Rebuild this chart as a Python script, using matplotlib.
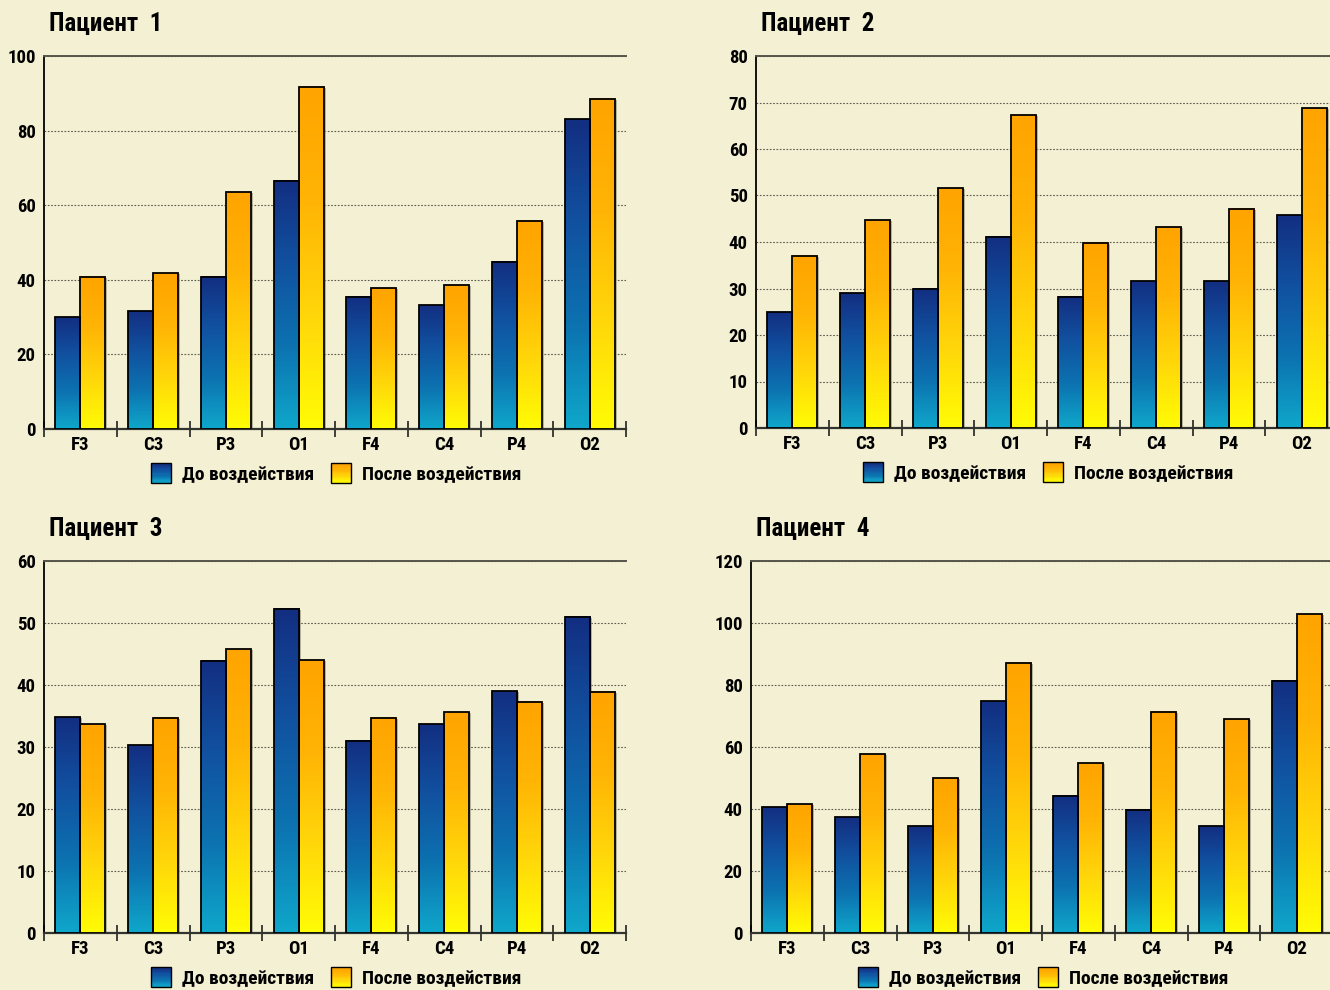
import numpy as np
import matplotlib
matplotlib.use("Agg")
from matplotlib import pyplot as plt
from matplotlib.colors import LinearSegmentedColormap
from matplotlib.patches import Rectangle, Patch
from matplotlib.legend_handler import HandlerBase
from matplotlib.transforms import ScaledTranslation
from matplotlib import font_manager

# narrow bold face if one is installed, plain DejaVu otherwise
names = {f.name for f in font_manager.fontManager.ttflist}
narrow = [n for n in ["Roboto Condensed", "Liberation Sans Narrow",
                      "Open Sans Condensed", "DejaVu Sans Condensed"] if n in names]
plt.rcParams['font.family'] = narrow + ['DejaVu Sans']
plt.rcParams['font.weight'] = 'bold'

leads = ["F3", "C3", "P3", "O1", "F4", "C4", "P4", "O2"]
titles = ["Пациент  1", "Пациент  2", "Пациент  3", "Пациент  4"]
legend_labels = ["До воздействия", "После воздействия"]

before_1 = [30, 31.6, 40.8, 66.5, 35.4, 33.2, 44.8, 83.1]
after_1 = [40.8, 41.8, 63.5, 91.7, 37.8, 38.6, 55.8, 88.5]
before_2 = [24.9, 29.0, 29.9, 41.1, 28.2, 31.6, 31.6, 45.8]
after_2 = [37.0, 44.7, 51.6, 67.3, 39.8, 43.2, 47.1, 68.8]
before_3 = [34.8, 30.3, 43.9, 52.3, 31.0, 33.7, 39.0, 51.0]
after_3 = [33.7, 34.7, 45.8, 44.0, 34.7, 35.6, 37.3, 38.9]
before_4 = [40.6, 37.4, 34.5, 74.8, 44.2, 39.7, 34.5, 81.3]
after_4 = [41.6, 57.7, 50.0, 87.1, 54.8, 71.3, 69.0, 102.9]

y_max = [100, 80, 60, 120]
y_step = [20, 10, 10, 20]

BG = "#f3f0d3"
blue_cmap = LinearSegmentedColormap.from_list(
    "blue", ["#0fa6ca", "#0c72b0", "#1151a0", "#132f82"])
gold_cmap = LinearSegmentedColormap.from_list(
    "gold", ["#fffb05", "#ffd60a", "#ffb405", "#ffa400"])


class GradientHandler(HandlerBase):
    def __init__(self, cmap):
        super().__init__()
        self.cmap = cmap

    def create_artists(self, legend, orig_handle, xdescent, ydescent,
                       width, height, fontsize, trans):
        arts = []
        n = 16
        side = height * 1.45
        x0 = -xdescent + (width - side) / 2
        y0 = -ydescent - (side - height) / 2
        for i in range(n):
            arts.append(Rectangle((x0, y0 + side * i / n), side, side / n + 0.3,
                                  facecolor=self.cmap(i / (n - 1)),
                                  edgecolor="none", transform=trans))
        arts.append(Rectangle((x0, y0), side, side, facecolor="none",
                              edgecolor="black", lw=1.0, transform=trans))
        return arts


def gradient_bars(ax, x, values, width, cmap):
    grad = np.linspace(1, 0, 64).reshape(-1, 1)
    bars = ax.bar(x, values, width, facecolor="none", edgecolor="black",
                  linewidth=1.3, zorder=4)
    shadow = ax.bar(x, values, width, facecolor="#8c8a76", edgecolor="none",
                    alpha=0.6, zorder=2)
    off = ScaledTranslation(2 / 100, -1 / 100, ax.figure.dpi_scale_trans)
    for s in shadow:
        s.set_transform(ax.transData + off)
    for b in bars:
        bx, bw, bh = b.get_x(), b.get_width(), b.get_height()
        ax.imshow(grad, cmap=cmap, aspect="auto", zorder=3,
                  extent=[bx, bx + bw, 0, bh], interpolation="bilinear")


fig = plt.figure(figsize=(13.3, 9.9), dpi=100)
fig.patch.set_facecolor(BG)

positions = [
    [44 / 1330, 1 - 429 / 990, 582 / 1330, 373 / 990],
    [756 / 1330, 1 - 428 / 990, 582 / 1330, 372 / 990],
    [44 / 1330, 1 - 933 / 990, 582 / 1330, 372 / 990],
    [751 / 1330, 1 - 933 / 990, 582 / 1330, 372 / 990],
]
data = [(before_1, after_1), (before_2, after_2),
        (before_3, after_3), (before_4, after_4)]

x = np.arange(len(leads))
w = 0.344

for k, (pos, (before, after)) in enumerate(zip(positions, data)):
    ax = fig.add_axes(pos)
    ax.set_facecolor(BG)
    gradient_bars(ax, x - w / 2, before, w, blue_cmap)
    gradient_bars(ax, x + w / 2, after, w, gold_cmap)

    ax.set_xlim(-0.5, len(leads) - 0.5)
    ax.set_ylim(0, y_max[k])
    ax.set_yticks(np.arange(0, y_max[k] + 1, y_step[k]))
    ax.tick_params(axis="y", length=0, labelsize=13.5, pad=6)
    ax.yaxis.grid(True, linestyle=(0, (1.5, 1.5)), color="#5a5a50",
                  linewidth=0.8)
    ax.set_axisbelow(True)

    ax.set_xticks(np.arange(len(leads) + 1) - 0.5)
    ax.set_xticklabels([])
    ax.set_xticks(x, minor=True)
    ax.set_xticklabels(leads, minor=True, fontsize=13.5)
    ax.tick_params(axis="x", which="major", direction="inout", length=12,
                   width=1.2, color="#222222")
    ax.tick_params(axis="x", which="minor", length=0, pad=5)

    for lbl in ax.get_yticklabels() + ax.get_xticklabels(minor=True):
        lbl.set_fontweight("bold")

    ax.spines["right"].set_visible(False)
    ax.spines["top"].set_color("#55554a")
    ax.spines["top"].set_linewidth(1.4)
    ax.spines["left"].set_color("black")
    ax.spines["left"].set_linewidth(1.3)
    ax.spines["bottom"].set_color("#333330")
    ax.spines["bottom"].set_linewidth(1.6)

    ax.text(0.008, 1.085, titles[k], transform=ax.transAxes, fontsize=18,
            fontweight="bold", ha="left", va="center")

    handles = [Patch(), Patch()]
    ax.legend(handles, legend_labels, loc="center",
              bbox_to_anchor=(0.5, -0.123), ncol=2, frameon=False,
              fontsize=14, handlelength=1.3, handletextpad=0.45,
              columnspacing=0.7,
              handler_map={handles[0]: GradientHandler(blue_cmap),
                           handles[1]: GradientHandler(gold_cmap)})

plt.savefig("out.png", dpi=100, facecolor=BG)
plt.close()
